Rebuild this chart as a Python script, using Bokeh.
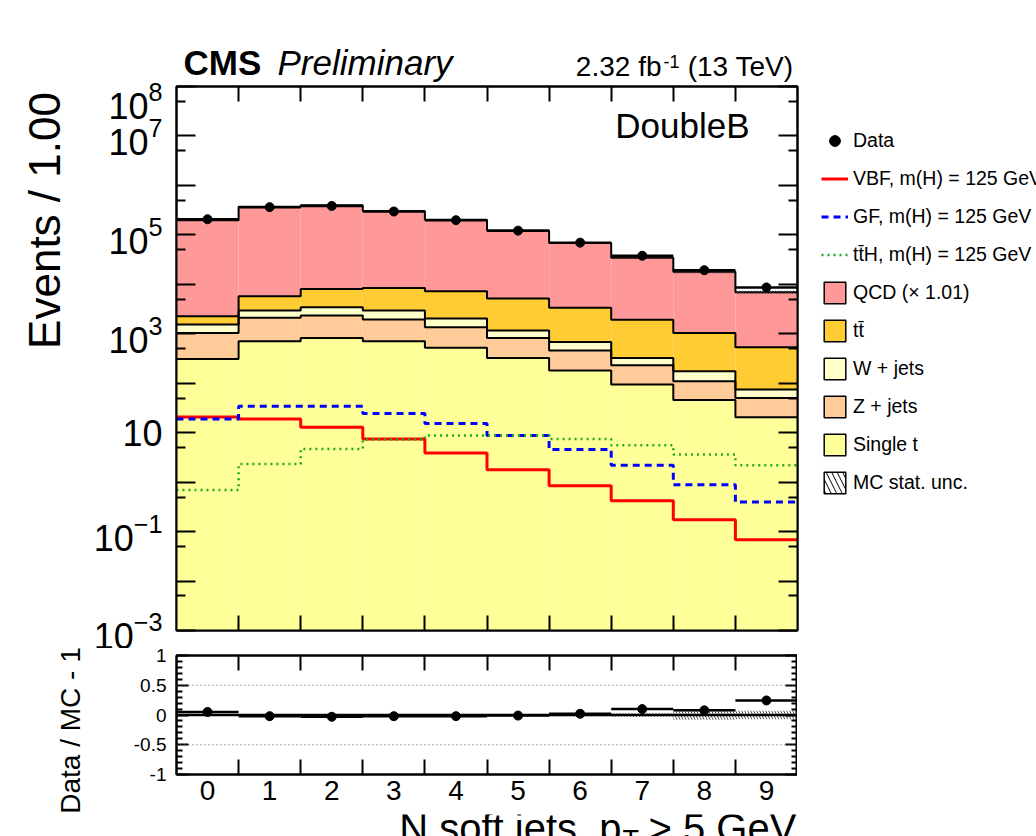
import numpy as np
from math import pi
from bokeh.plotting import figure
from bokeh.models import (ColumnDataSource, FixedTicker, Label, Legend, LegendItem,
                          LinearAxis, LogAxis, CustomJSTickFormatter, Span, Range1d)
from bokeh.layouts import column, row
from bokeh.embed import file_html
from bokeh.resources import INLINE

FONT = "Liberation Sans"

# ---------------- data ----------------
bins = [0, 1, 2, 3, 4, 5, 6, 7, 8, 9]
bin_labels = ["0", "1", "2", "3", "4", "5", "6", "7", "8", "9"]

single_t = [310, 708, 826, 708, 519, 325, 181, 94, 46, 20.5]
z_jets = [730, 1392, 1524, 1242, 841, 501, 278, 137, 64, 30]
w_jets = [500, 860, 1100, 1010, 680, 344, 226, 94, 65, 24]
ttbar = [730, 2810, 4550, 5420, 5240, 4010, 2675, 1585, 865, 461]
qcd = [194700, 365200, 388000, 294600, 194700, 117800, 64840, 32490, 16860, 6415]

vbf = [20.8, 18.9, 12.9, 7.45, 3.88, 1.79, 0.85, 0.42, 0.174, 0.0686]
gf = [18.9, 34.2, 34.2, 24.4, 15.3, 8.73, 4.55, 2.19, 0.89, 0.395]
tth = [0.69, 2.32, 4.68, 7.25, 8.73, 8.73, 7.45, 5.56, 3.6, 2.19]

data = [206900, 363600, 384100, 296900, 198000, 121800, 69600, 37800, 19300, 8650]
mc_stat_unc = [0.01, 0.006, 0.006, 0.006, 0.006, 0.01, 0.02, 0.03, 0.08, 0.07]

stack_names = ["Single t", "Z + jets", "W + jets", "t\u0074\u0304", "QCD (\u00d7 1.01)"]
stack_values = [single_t, z_jets, w_jets, ttbar, qcd]
stack_colors = ["#ffff99", "#ffcc99", "#ffffcc", "#ffcc33", "#ff9999"]

VBF_STYLE = dict(line_color="red", line_width=3)
GF_STYLE = dict(line_color="blue", line_width=3, line_dash="7 5")
TTH_STYLE = dict(line_color="#22aa22", line_width=2.5, line_dash="2 4")

# ---------------- helpers ----------------
x = np.array(bins, dtype=float)
lo = x - 0.5
hi = x + 0.5
edges = np.append(lo, hi[-1])


def steps(vals):
    return np.repeat(edges, 2)[1:-1], np.repeat(np.asarray(vals, dtype=float), 2)


def hide_labels(ax):
    ax.major_label_text_font_size = "1px"
    ax.major_label_text_alpha = 0
    ax.major_label_standoff = 0


def strip(x0, x1, y0, y1):
    f = figure(width=x1 - x0, height=y1 - y0, x_range=Range1d(x0, x1), y_range=Range1d(y1, y0),
               min_border=0, min_border_left=0, min_border_right=0, min_border_top=0,
               min_border_bottom=0, toolbar_location=None, output_backend="svg",
               x_axis_location=None, y_axis_location=None, outline_line_color=None,
               background_fill_color="white", border_fill_color="white")
    f.xgrid.visible = False
    f.ygrid.visible = False
    return f


def lab(fig, x, y_base, text, size_px, align="left", style="normal", angle=0, middle=False):
    # y_base is the text baseline (or the centre when middle=True); anchor at em-box middle
    y = y_base if middle else y_base - 0.3465 * size_px
    fig.add_layout(Label(x=x, y=y, text=text, text_font=FONT, text_font_size=f"{size_px}px",
                         text_font_style=style, text_align=align, text_baseline="middle",
                         text_color="black", angle=angle))


YMIN, YMAX = 1e-3, 1e8
LEFT = 90
HEAD = 82
B_LEFT = 172 - LEFT
B_RIGHT = 4
H_MAIN = 4 + 544 + 18
H_RATIO = 7 + 119 + 40
MID_BOTTOM = HEAD + H_MAIN + H_RATIO
PLOT_RIGHT = LEFT + B_LEFT + 621 + B_RIGHT

# ---------------- main panel ----------------
p = figure(x_range=(-0.5, 9.5), y_range=(YMIN, YMAX), y_axis_type="log",
           frame_width=621, frame_height=544,
           min_border_left=B_LEFT, min_border_right=B_RIGHT, min_border_top=4, min_border_bottom=18,
           toolbar_location=None, output_backend="svg",
           outline_line_color="black", outline_line_width=2,
           background_fill_color="white", border_fill_color="white")
p.xgrid.visible = False
p.ygrid.visible = False

base = np.zeros(len(bins))
tops = []
stack_sources = []
for name, vals, col in zip(stack_names, stack_values, stack_colors):
    top = base + np.asarray(vals, dtype=float)
    bottom = np.where(base > 0, base, YMIN)
    src = ColumnDataSource(dict(left=lo, right=hi, bottom=bottom, top=top))
    stack_sources.append(src)
    p.quad(left="left", right="right", bottom="bottom", top="top", source=src,
           fill_color=col, line_color=None)
    tops.append(top)
    base = top
total = base

for top in tops:
    sx, sy = steps(top)
    p.line(sx, sy, line_color="black", line_width=2)

unc = np.asarray(mc_stat_unc)
unc_src = ColumnDataSource(dict(left=lo, right=hi, bottom=total * (1 - unc), top=total * (1 + unc)))
p.quad(left="left", right="right", bottom="bottom", top="top", source=unc_src,
       fill_alpha=0, line_alpha=0, hatch_pattern="\\", hatch_color="#333333",
       hatch_scale=6, hatch_weight=1)

line_sources = {}
for key, vals, style in (("vbf", vbf, VBF_STYLE), ("gf", gf, GF_STYLE), ("tth", tth, TTH_STYLE)):
    sx, sy = steps(vals)
    line_sources[key] = ColumnDataSource(dict(x=sx, y=sy))
    p.line("x", "y", source=line_sources[key], **style)

data_arr = np.asarray(data, dtype=float)
data_src = ColumnDataSource(dict(x=x, y=data_arr, x0=lo, x1=hi))
p.segment(x0="x0", x1="x1", y0="y", y1="y", source=data_src, line_color="black", line_width=2.5)
p.scatter("x", "y", source=data_src, size=9, color="black")

decades = [10.0 ** k for k in range(-3, 9)]
halves = [5 * 10.0 ** k for k in range(-3, 8)]
yt = FixedTicker(ticks=decades, minor_ticks=halves)
xt = FixedTicker(ticks=bins, minor_ticks=list(edges[1:-1]))

ya = p.yaxis[0]
ya.ticker = yt
ya.major_tick_in = 19
ya.major_tick_out = 0
ya.minor_tick_in = 9
ya.minor_tick_out = 0
ya.major_label_standoff = 14
ya.major_label_text_font = FONT
ya.major_label_text_font_size = "36px"
ya.major_label_text_color = "black"
ya.axis_line_width = 2
ya.major_tick_line_width = 2
ya.minor_tick_line_width = 2
ya.major_label_overrides = {1e6: "", 1e4: "", 1e2: "", 1.0: "", 0.01: "", 10.0: "10"}

yr = LogAxis(ticker=yt, major_tick_in=19, major_tick_out=0, minor_tick_in=9, minor_tick_out=0,
             axis_line_width=2, major_tick_line_width=2, minor_tick_line_width=2)
hide_labels(yr)
p.add_layout(yr, "right")

xa = p.xaxis[0]
xa.ticker = xt
xa.major_tick_in = 0
xa.major_tick_out = 0
xa.minor_tick_in = 15
xa.minor_tick_out = 0
xa.minor_tick_line_width = 2
xa.axis_line_width = 2
hide_labels(xa)
xtop = LinearAxis(ticker=xt, major_tick_in=0, major_tick_out=0, minor_tick_in=15, minor_tick_out=0,
                  minor_tick_line_width=2, axis_line_width=2)
hide_labels(xtop)
p.add_layout(xtop, "above")

p.add_layout(Label(x=573, y=505, x_units="screen", y_units="screen", text="DoubleB",
                   text_font=FONT, text_font_size="35px", text_align="right",
                   text_baseline="alphabetic", text_color="black"))

# ---------------- ratio panel ----------------
r = figure(x_range=p.x_range, y_range=(-1, 1),
           frame_width=621, frame_height=119,
           min_border_left=B_LEFT, min_border_right=B_RIGHT, min_border_top=7, min_border_bottom=40,
           toolbar_location=None, output_backend="svg",
           outline_line_color="black", outline_line_width=2,
           background_fill_color="white", border_fill_color="white")
r.xgrid.visible = False
r.ygrid.visible = False

for loc in (0.5, -0.5):
    r.add_layout(Span(location=loc, dimension="width", line_color="#555555",
                      line_width=1, line_dash="1 3"))

r.quad(left=lo, right=hi, bottom=-unc, top=unc, fill_alpha=0, line_alpha=0,
       hatch_pattern="\\", hatch_color="#555555", hatch_scale=6, hatch_weight=1)
r.add_layout(Span(location=0, dimension="width", line_color="black", line_width=2.5))

ratio = data_arr / total - 1
r.segment(x0=lo, x1=hi, y0=ratio, y1=ratio, line_color="black", line_width=2.5)
r.scatter(x, ratio, size=9, color="black")

ryt = FixedTicker(ticks=[-1, -0.5, 0, 0.5, 1],
                  minor_ticks=[-0.9, -0.8, -0.7, -0.6, -0.4, -0.3, -0.2, -0.1,
                               0.1, 0.2, 0.3, 0.4, 0.6, 0.7, 0.8, 0.9])
rya = r.yaxis[0]
rya.ticker = ryt
rya.formatter = CustomJSTickFormatter(code="return String(Math.round(tick*10)/10)")
rya.major_tick_in = 12
rya.major_tick_out = 0
rya.minor_tick_in = 6
rya.minor_tick_out = 0
rya.major_label_standoff = 10
rya.major_label_text_font = FONT
rya.major_label_text_font_size = "19px"
rya.major_label_text_color = "black"
rya.axis_line_width = 2
rya.major_tick_line_width = 2
rya.minor_tick_line_width = 2
ryr = LinearAxis(ticker=ryt, major_tick_in=12, major_tick_out=0, minor_tick_in=6,
                 minor_tick_out=0, axis_line_width=2,
                 major_tick_line_width=2, minor_tick_line_width=2)
hide_labels(ryr)
r.add_layout(ryr, "right")

rxa = r.xaxis[0]
rxa.ticker = xt
rxa.major_tick_in = 0
rxa.major_tick_out = 0
rxa.minor_tick_in = 15
rxa.minor_tick_out = 0
rxa.minor_tick_line_width = 2
rxa.axis_line_width = 2
rxa.major_label_standoff = 6
rxa.major_label_text_font = FONT
rxa.major_label_text_font_size = "28px"
rxa.major_label_text_color = "black"
rxt = LinearAxis(ticker=xt, major_tick_in=0, major_tick_out=0, minor_tick_in=15,
                 minor_tick_out=0, minor_tick_line_width=2, axis_line_width=2)
hide_labels(rxt)
r.add_layout(rxt, "above")

# ---------------- header / footer / side strips ----------------
header = strip(0, 1036, 0, HEAD)
lab(header, 183, 74, "CMS", 35, style="bold")
lab(header, 277, 74, "Preliminary", 35, style="italic")
lab(header, 661, 76, "2.32 fb", 28, align="right")
lab(header, 663, 67, "-1", 18)
lab(header, 793, 76, "(13 TeV)", 28, align="right")

footer = strip(0, 1036, MID_BOTTOM, 836)
lab(footer, 621, 841, "N soft jets, p", 40, align="right")
lab(footer, 622, 849, "T", 27)
lab(footer, 648, 841, "> 5 GeV", 40)

left = strip(0, LEFT, HEAD, MID_BOTTOM)
lab(left, 44, 220, "Events / 1.00", 44, align="center", angle=pi / 2, middle=True)
lab(left, 70, 730, "Data / MC - 1", 28, align="center", angle=pi / 2, middle=True)

# legend strip: the same data re-drawn outside this strip's visible range, used only as legend keys
right = strip(PLOT_RIGHT, 1036, HEAD, MID_BOTTOM)
l_data = right.scatter("x", "y", source=data_src, size=9, color="black")
l_vbf = right.line("x", "y", source=line_sources["vbf"], **VBF_STYLE)
l_gf = right.line("x", "y", source=line_sources["gf"], **GF_STYLE)
l_tth = right.line("x", "y", source=line_sources["tth"], **TTH_STYLE)
box = {}
for name, col, src in zip(stack_names, stack_colors, stack_sources):
    box[name] = right.quad(left="left", right="right", bottom="bottom", top="top", source=src,
                           fill_color=col, line_color="black", line_width=1.5)
l_unc = right.quad(left="left", right="right", bottom="bottom", top="top", source=unc_src,
                   fill_color="white", line_color="black", line_width=1.5,
                   hatch_pattern="\\", hatch_color="black", hatch_scale=11, hatch_weight=1)

items = [
    LegendItem(label="Data", renderers=[l_data]),
    LegendItem(label="VBF, m(H) = 125 GeV", renderers=[l_vbf]),
    LegendItem(label="GF, m(H) = 125 GeV", renderers=[l_gf]),
    LegendItem(label="t\u0074\u0304H, m(H) = 125 GeV", renderers=[l_tth]),
]
for name in reversed(stack_names):
    items.append(LegendItem(label=name, renderers=[box[name]]))
items.append(LegendItem(label="MC stat. unc.", renderers=[l_unc]))

legend = Legend(items=items, location=(819 - PLOT_RIGHT - 2, MID_BOTTOM - 496), orientation="vertical",
                glyph_width=27, glyph_height=27, label_standoff=5, spacing=11,
                padding=0, margin=0, border_line_alpha=0, background_fill_alpha=0,
                label_text_font=FONT, label_text_font_size="19.5px", label_height=27,
                label_text_baseline="middle", label_text_color="black")
right.add_layout(legend, "center")

middle = row(left, column(p, r, spacing=0), right, spacing=0)
layout = column(header, middle, footer, spacing=0)
open("out.html", "w").write(file_html(layout, INLINE))
